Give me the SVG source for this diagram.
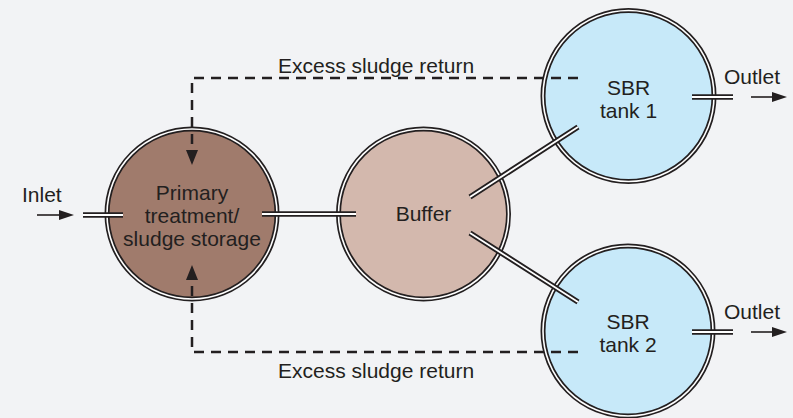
<svg xmlns="http://www.w3.org/2000/svg" width="793" height="418" viewBox="0 0 793 418">
<style>
.ring{stroke:#231f20;stroke-width:5}
.ringw{fill:none;stroke:#ffffff;stroke-width:1.6}
.pipe{stroke:#231f20;stroke-width:5.5;fill:none}
.pipew{stroke:#ffffff;stroke-width:1.8;fill:none}
.dash{stroke:#231f20;stroke-width:2.5;fill:none;stroke-dasharray:10 7}
.ar{stroke:#231f20;stroke-width:1.6;fill:none}
.head{fill:#231f20}
text{font-family:"Liberation Sans",Arial,sans-serif;font-size:21px;fill:#231f20}
.c{text-anchor:middle}
</style>
<rect width="793" height="418" fill="#f2f3f5"/>
<g id="primary">
<circle cx="192" cy="214" r="85" fill="#a07b6c" class="ring"/>
<circle cx="192" cy="214" r="85" class="ringw"/>
<text class="c" x="192" y="200">Primary</text>
<text class="c" x="192" y="223">treatment/</text>
<text class="c" x="192" y="246">sludge storage</text>
</g>
<g id="buffer">
<circle cx="423.5" cy="214" r="85" fill="#d3b8ad" class="ring"/>
<circle cx="423.5" cy="214" r="85" class="ringw"/>
<text class="c" x="423.5" y="221">Buffer</text>
</g>
<g id="sbr1">
<circle cx="628.5" cy="96" r="85.5" fill="#c7e9f9" class="ring"/>
<circle cx="628.5" cy="96" r="85.5" class="ringw"/>
<text class="c" x="628.5" y="95">SBR</text>
<text class="c" x="628.5" y="118">tank 1</text>
</g>
<g id="sbr2">
<circle cx="628" cy="331" r="85" fill="#c7e9f9" class="ring"/>
<circle cx="628" cy="331" r="85" class="ringw"/>
<text class="c" x="628" y="329">SBR</text>
<text class="c" x="628" y="352">tank 2</text>
</g>
<g id="connectors">
<path class="pipe" d="M83 215H123M262 214H356M470 197L578 127M470 233L578 302M692 97H733M692 332H733"/>
<path class="pipew" d="M83 215H123M262 214H356M470 197L578 127M470 233L578 302M692 97H733M692 332H733"/>
<path class="dash" d="M578 78H192V152"/>
<path class="dash" d="M578 352H192V278"/>
<path class="head" d="M186 150L198 150L192 165Z"/>
<path class="head" d="M186 280L198 280L192 265Z"/>
<line class="ar" x1="37" y1="215" x2="62" y2="215"/>
<path class="head" d="M59 210L74 215L59 220Z"/>
<line class="ar" x1="751" y1="97" x2="775" y2="97"/>
<path class="head" d="M772 92L787 97L772 102Z"/>
<line class="ar" x1="751" y1="332" x2="775" y2="332"/>
<path class="head" d="M772 327L787 332L772 337Z"/>
</g>
<text x="22" y="202">Inlet</text>
<text x="724" y="84">Outlet</text>
<text x="724" y="319">Outlet</text>
<text x="278" y="73">Excess sludge return</text>
<text x="278" y="378">Excess sludge return</text>
</svg>
